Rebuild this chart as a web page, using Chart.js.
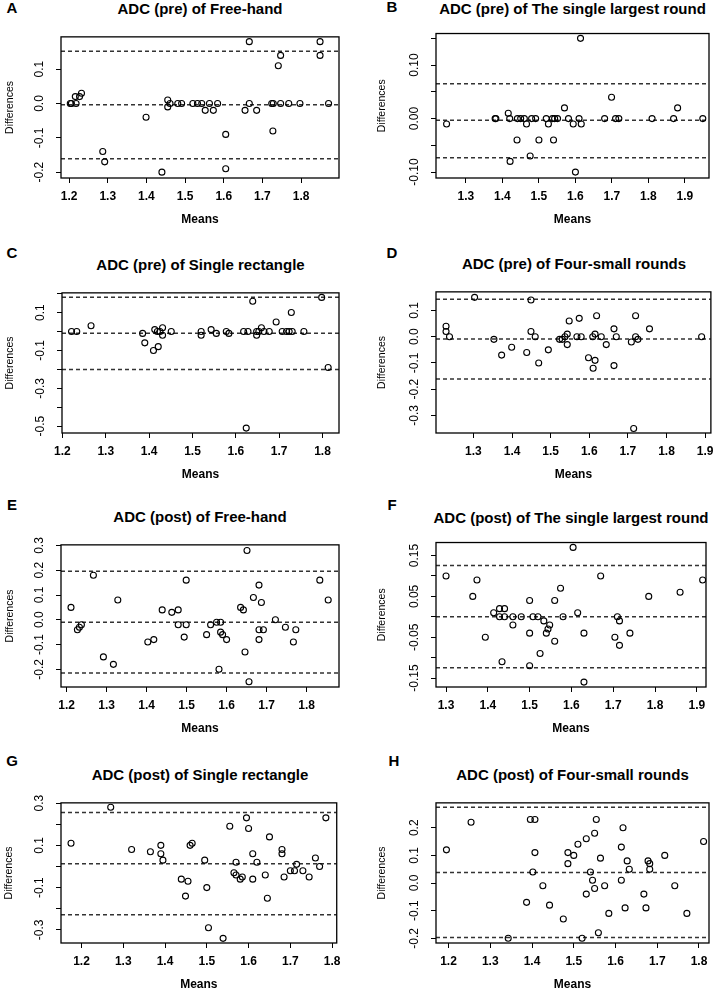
<!DOCTYPE html>
<html lang="en">
<head>
<meta charset="UTF-8">
<title>Bland-Altman ADC</title>
<script src="https://cdn.jsdelivr.net/npm/chart.js@4.4.0/dist/chart.umd.min.js"></script>
<style>
  body { margin: 0; background: #fff; width: 718px; height: 991px; position: relative; overflow: hidden;
         font-family: "Liberation Sans", Arial, sans-serif; }
  .letter { position: absolute; width: 20px; text-align: center; font-weight: bold; font-size: 15px; line-height: 14px; }
  .title { position: absolute; text-align: center; font-weight: bold; font-size: 15px; line-height: 18px; white-space: nowrap; }
  canvas { position: absolute; }
</style>
</head>
<body>
<script>
// ---- data ----
// A: ADC (pre) of Free-hand
const meansA = [1.203,1.206,1.216,1.218,1.227,1.232,1.287,1.292,1.399,1.440,
                1.455,1.455,1.461,1.481,1.491,1.520,1.532,1.543,1.552,1.563,
                1.573,1.584,1.605,1.605,1.655,1.666,1.666,1.685,1.727,1.724,
                1.728,1.741,1.747,1.747,1.768,1.797,1.849,1.849,1.871];
const diffsA = [0,0,0.02,0,0.02,0.03,-0.14,-0.17,-0.04,-0.20,
                0.01,-0.01,0,0,0,0,0,0,-0.02,0,
                -0.02,0,-0.09,-0.19,-0.02,0.18,0,-0.02,-0.08,0,
                0,0.11,0.14,0,0,0,0.18,0.14,0];
const limitsA = [0.152, -0.004, -0.161];
const xRangeA = [1.179, 1.898], yRangeA = [-0.217, 0.194];
const xTicksA = ['1.2','1.3','1.4','1.5','1.6','1.7','1.8'];
const yTicksA = ['0.1','0.0','-0.1','-0.2'];

// B: ADC (pre) of The single largest round
const meansB = [1.247,1.380,1.382,1.416,1.420,1.421,1.440,1.441,1.450,1.460,
                1.466,1.476,1.480,1.491,1.500,1.520,1.526,1.537,1.543,1.551,
                1.540,1.570,1.581,1.594,1.600,1.610,1.614,1.616,1.680,1.699,
                1.710,1.719,1.810,1.869,1.880,1.949];
const diffsB = [-0.01,0,0,0.01,0,-0.08,-0.04,0,0,0,
                -0.01,-0.07,0,0,-0.04,0,-0.01,0,0,0,
                -0.04,0.02,0,-0.01,-0.10,0,0.15,-0.01,0,0.04,
                0,0,0,0,0.02,0];
const limitsB = [0.065, -0.003, -0.073];
const xRangeB = [1.218, 1.966], yRangeB = [-0.111, 0.159];
const xTicksB = ['1.3','1.4','1.5','1.6','1.7','1.8','1.9'];
const yTicksB = ['0.10','0.00','-0.10'];

// C: ADC (pre) of Single rectangle
const meansC = [1.221,1.233,1.266,1.385,1.390,1.410,1.413,1.419,1.421,1.425,
                1.431,1.431,1.451,1.520,1.520,1.543,1.555,1.578,1.584,1.618,
                1.628,1.624,1.639,1.648,1.653,1.648,1.659,1.665,1.677,1.693,
                1.707,1.717,1.723,1.730,1.728,1.757,1.798,1.813];
const diffsC = [0,0,0.03,-0.01,-0.06,-0.10,0.01,0,-0.08,0,
                0.02,-0.02,0,0,-0.02,0.01,-0.01,0,-0.01,0,
                0,-0.51,0.16,0,0,-0.02,0.02,0,0,0.05,
                0,0,0,0,0.10,0,0.18,-0.19];
const limitsC = [0.181, -0.009, -0.201];
const xRangeC = [1.199, 1.838], yRangeC = [-0.536, 0.204];
const xTicksC = ['1.2','1.3','1.4','1.5','1.6','1.7','1.8'];
const yTicksC = ['0.1','-0.1','-0.3','-0.5'];

// D: ADC (pre) of Four-small rounds
const meansD = [1.229,1.229,1.238,1.303,1.353,1.373,1.399,1.438,1.449,1.449,
                1.460,1.469,1.494,1.523,1.530,1.537,1.543,1.543,1.548,1.568,
                1.574,1.579,1.598,1.609,1.610,1.615,1.615,1.619,1.631,1.644,
                1.664,1.664,1.670,1.709,1.720,1.720,1.726,1.715,1.756,1.891];
const diffsD = [0.04,0.02,0,0.15,-0.01,-0.07,-0.04,-0.06,0.14,0.02,
                0,-0.10,-0.05,-0.01,-0.01,0,0.01,-0.03,0.06,0,
                0.07,0,-0.08,0,-0.12,0.01,-0.09,0.08,0,-0.03,
                0.03,-0.11,0,-0.02,0.08,0,-0.01,-0.35,0.03,0];
const limitsD = [0.143, -0.009, -0.161];
const xRangeD = [1.203, 1.915], yRangeD = [-0.367, 0.171];
const xTicksD = ['1.3','1.4','1.5','1.6','1.7','1.8','1.9'];
const yTicksD = ['0.1','0.0','-0.1','-0.2','-0.3'];

// E: ADC (post) of Free-hand
const meansE = [1.211,1.227,1.232,1.237,1.267,1.292,1.317,1.328,1.403,1.418,
                1.439,1.463,1.479,1.479,1.494,1.499,1.499,1.550,1.560,1.575,
                1.585,1.581,1.585,1.590,1.600,1.635,1.642,1.646,1.651,1.656,
                1.667,1.681,1.681,1.681,1.687,1.692,1.722,1.747,1.767,1.773,
                1.833,1.854];
const diffsE = [0.05,-0.04,-0.03,-0.02,0.18,-0.15,-0.18,0.08,-0.09,-0.08,
                0.04,0.03,0.04,-0.02,-0.07,0.16,-0.02,-0.06,-0.02,-0.01,
                -0.01,-0.20,-0.05,-0.06,-0.08,0.05,0.04,-0.13,0.28,-0.25,
                0.09,0.14,-0.04,-0.08,0.07,-0.04,0.00,-0.03,-0.09,-0.04,
                0.16,0.08];
const limitsE = [0.196, -0.010, -0.215];
const xRangeE = [1.186, 1.881], yRangeE = [-0.2715, 0.3026];
const xTicksE = ['1.2','1.3','1.4','1.5','1.6','1.7','1.8'];
const yTicksE = ['0.3','0.2','0.1','0.0','-0.1','-0.2'];

// F: ADC (post) of The single largest round
const meansF = [1.300,1.364,1.374,1.394,1.414,1.428,1.440,1.428,1.440,1.434,
                1.460,1.460,1.480,1.500,1.500,1.500,1.508,1.520,1.525,1.534,
                1.540,1.544,1.548,1.560,1.560,1.574,1.580,1.604,1.615,1.630,
                1.630,1.670,1.704,1.710,1.715,1.715,1.740,1.785,1.860,1.914];
const diffsF = [0.10,0.05,0.09,-0.05,0.01,0.02,0.02,0.00,0.00,-0.11,
                0.00,-0.02,0.00,0.04,-0.04,-0.12,0.00,0.00,-0.09,-0.01,
                -0.04,-0.03,-0.02,0.04,-0.06,0.07,0.00,0.17,0.01,-0.04,
                -0.16,0.10,-0.05,0.00,-0.01,-0.07,-0.04,0.05,0.06,0.09];
const limitsF = [0.126, 0.000, -0.125];
const xRangeF = [1.276, 1.922], yRangeF = [-0.172, 0.182];
const xTicksF = ['1.3','1.4','1.5','1.6','1.7','1.8','1.9'];
const yTicksF = ['0.15','0.05','-0.05','-0.15'];

// G: ADC (post) of Single rectangle
const meansG = [1.175,1.270,1.320,1.365,1.390,1.390,1.395,1.439,1.449,1.455,
                1.460,1.465,1.495,1.500,1.504,1.539,1.555,1.570,1.565,1.570,
                1.580,1.585,1.595,1.600,1.610,1.610,1.620,1.640,1.645,1.650,
                1.680,1.680,1.685,1.700,1.710,1.715,1.730,1.745,1.760,1.770,
                1.785];
const diffsG = [0.11,0.28,0.08,0.07,0.10,0.06,0.03,-0.06,-0.14,-0.07,
                0.10,0.11,0.03,-0.10,-0.29,-0.34,0.19,0.02,-0.03,-0.04,
                -0.06,-0.05,0.23,0.18,0.06,-0.06,0.02,-0.04,-0.15,0.14,
                0.08,0.06,-0.05,-0.02,-0.02,0.01,-0.02,-0.05,0.04,0.00,
                0.23];
const limitsG = [0.255, 0.013, -0.228];
const xRangeG = [1.151, 1.811], yRangeG = [-0.362, 0.301];
const xTicksG = ['1.2','1.3','1.4','1.5','1.6','1.7','1.8'];
const yTicksG = ['0.3','0.1','-0.1','-0.3'];

// H: ADC (post) of Four-small rounds
const meansH = [1.195,1.254,1.343,1.387,1.396,1.407,1.402,1.407,1.426,1.442,
                1.475,1.486,1.486,1.500,1.510,1.520,1.530,1.530,1.540,1.545,
                1.550,1.550,1.554,1.559,1.564,1.574,1.584,1.614,1.614,1.618,
                1.623,1.628,1.633,1.668,1.673,1.678,1.682,1.682,1.718,1.742,
                1.771,1.811];
const diffsH = [0.12,0.22,-0.20,-0.07,0.23,0.23,0.04,0.11,-0.01,-0.08,
                -0.13,0.07,0.11,0.10,0.14,-0.20,0.16,-0.04,0.04,0.01,
                -0.02,0.18,0.23,-0.18,0.09,-0.01,-0.11,0.13,0.01,0.20,
                -0.09,0.08,0.05,-0.04,-0.09,0.08,0.07,0.05,0.10,-0.01,
                -0.11,0.15];
const limitsH = [0.274, 0.038, -0.197];
const xRangeH = [1.170, 1.824], yRangeH = [-0.217, 0.290];
const xTicksH = ['1.2','1.3','1.4','1.5','1.6','1.7','1.8'];
const yTicksH = ['0.2','0.1','0.0','-0.1','-0.2'];

// ---- layout (page pixels) ----
// plot box [left, top, right, bottom], column origin, letter centre, y-title centre x
const panels = [
  { id:'A', title:'ADC (pre) of Free-hand', m:meansA, d:diffsA, lim:limitsA, xr:xRangeA, yr:yRangeA, xt:xTicksA, yt:yTicksA, ys:0.1,
    box:[61,32,339,178], col:0, letter:[12,8], yTitle:10 },
  { id:'B', title:'ADC (pre) of The single largest round', m:meansB, d:diffsB, lim:limitsB, xr:xRangeB, yr:yRangeB, xt:xTicksB, yt:yTicksB, ys:0.05,
    box:[436,32,709,178], col:359, letter:[392,7], yTitle:382 },
  { id:'C', title:'ADC (pre) of Single rectangle', m:meansC, d:diffsC, lim:limitsC, xr:xRangeC, yr:yRangeC, xt:xTicksC, yt:yTicksC, ys:0.1,
    box:[62,288,339,433], col:0, letter:[12,253], yTitle:10 },
  { id:'D', title:'ADC (pre) of Four-small rounds', m:meansD, d:diffsD, lim:limitsD, xr:xRangeD, yr:yRangeD, xt:xTicksD, yt:yTicksD, ys:0.1,
    box:[436,287,712,433], col:359, letter:[392,253], yTitle:382 },
  { id:'E', title:'ADC (post) of Free-hand', m:meansE, d:diffsE, lim:limitsE, xr:xRangeE, yr:yRangeE, xt:xTicksE, yt:yTicksE, ys:0.1,
    box:[61,540,339,687], col:0, letter:[12,505], yTitle:10 },
  { id:'F', title:'ADC (post) of The single largest round', m:meansF, d:diffsF, lim:limitsF, xr:xRangeF, yr:yRangeF, xt:xTicksF, yt:yTicksF, ys:0.05,
    box:[436,541,706,687], col:359, letter:[392,505], yTitle:382 },
  { id:'G', title:'ADC (post) of Single rectangle', m:meansG, d:diffsG, lim:limitsG, xr:xRangeG, yr:yRangeG, xt:xTicksG, yt:yTicksG, ys:0.1,
    box:[61,798,339,943], col:0, letter:[12,761], yTitle:9 },
  { id:'H', title:'ADC (post) of Four-small rounds', m:meansH, d:diffsH, lim:limitsH, xr:xRangeH, yr:yRangeH, xt:xTicksH, yt:yTicksH, ys:0.1,
    box:[436,798,709,943], col:359, letter:[394,761], yTitle:382 }
];

const FAMILY = '"Liberation Sans", Arial, sans-serif';
Chart.defaults.font.family = FAMILY;
Chart.defaults.color = '#000';

const measure = document.createElement('canvas').getContext('2d');
function widest(labels, font) {
  measure.font = font;
  return Math.max(...labels.map(t => measure.measureText(t).width));
}

// tick formatter: only the labels R printed are shown, the rest stay as bare tick marks
function tickText(labels) {
  const dec = (labels[0].split('.')[1] || '').length;
  return v => {
    const s = (Math.abs(v) < 1e-9 ? 0 : v).toFixed(dec);
    return labels.includes(s) ? s : '';
  };
}

// frame round the plot region, like R's box()
const plotBox = {
  id: 'plotBox',
  afterDraw(chart) {
    const { ctx, chartArea: a } = chart;
    ctx.save();
    ctx.strokeStyle = '#000';
    ctx.lineWidth = 1.3;
    ctx.strokeRect(a.left, a.top, a.right - a.left, a.bottom - a.top);
    ctx.restore();
  }
};

function addText(cls, text, css) {
  const el = document.createElement('div');
  el.className = cls;
  el.textContent = text;
  Object.assign(el.style, css);
  document.body.appendChild(el);
}

panels.forEach(p => {
  const [L, T, R, B] = p.box;
  const padTop = 8, padRight = 8, xAxisH = 52;
  const w = R + padRight - p.col;
  const h = B + xAxisH - (T - padTop);

  addText('letter', p.id, { left: (p.letter[0] - 10) + 'px', top: (p.letter[1] - 7) + 'px' });
  addText('title', p.title, { left: (L - 20) + 'px', width: (R - L + 40) + 'px', top: (T - 23.5 - 9) + 'px' });

  const cv = document.createElement('canvas');
  cv.width = w; cv.height = h;
  cv.style.left = p.col + 'px';
  cv.style.top = (T - padTop) + 'px';
  cv.style.width = w + 'px';
  cv.style.height = h + 'px';
  document.body.appendChild(cv);

  const yFontSize = 12;
  const yWide = widest(p.yt, yFontSize + 'px ' + FAMILY);

  const lineSets = p.lim.map(v => ({
    data: [{ x: p.xr[0], y: v }, { x: p.xr[1], y: v }],
    showLine: true,
    borderColor: '#333',
    borderWidth: 1.5,
    borderDash: [4, 3],
    pointRadius: 0,
    pointHoverRadius: 0
  }));

  new Chart(cv, {
    type: 'scatter',
    data: {
      datasets: [{
        data: p.m.map((x, i) => ({ x: x, y: p.d[i] })),
        pointStyle: 'circle',
        pointRadius: 3,
        pointHoverRadius: 3,
        pointBorderWidth: 1.1,
        pointBorderColor: '#000',
        pointBackgroundColor: 'rgba(0,0,0,0)'
      }].concat(lineSets)
    },
    options: {
      responsive: false,
      animation: false,
      events: [],
      layout: { padding: { top: padTop, right: padRight, left: 0, bottom: 0 } },
      plugins: { legend: { display: false }, tooltip: { enabled: false } },
      scales: {
        x: {
          type: 'linear',
          min: p.xr[0], max: p.xr[1],
          afterFit: s => { s.height = xAxisH; },
          grid: { drawOnChartArea: false, color: '#000', tickLength: 5 },
          border: { display: false },
          ticks: { stepSize: 0.1, includeBounds: false, autoSkip: false, maxRotation: 0,
                   padding: 6.4, font: { size: 12, weight: 'bold' }, callback: tickText(p.xt) },
          title: { display: true, text: 'Means', font: { size: 12, weight: 'bold', lineHeight: 1.2 },
                   padding: { top: 0, bottom: 2.8 } }
        },
        y: {
          type: 'linear',
          min: p.yr[0], max: p.yr[1],
          afterFit: s => { s.width = L - p.col; },
          grid: { drawOnChartArea: false, color: '#000', tickLength: 5 },
          border: { display: false },
          ticks: { stepSize: p.ys, includeBounds: false, autoSkip: false,
                   minRotation: 90, maxRotation: 90, crossAlign: 'center',
                   padding: 16 - yWide / 2, font: { size: yFontSize }, callback: tickText(p.yt) },
          title: { display: true, text: 'Differences',
                   font: { size: 10.5, lineHeight: 1.2 },
                   padding: { top: p.yTitle - p.col - 6.3, bottom: 0 } }
        }
      }
    },
    plugins: [plotBox]
  });
});
</script>
</body>
</html>
